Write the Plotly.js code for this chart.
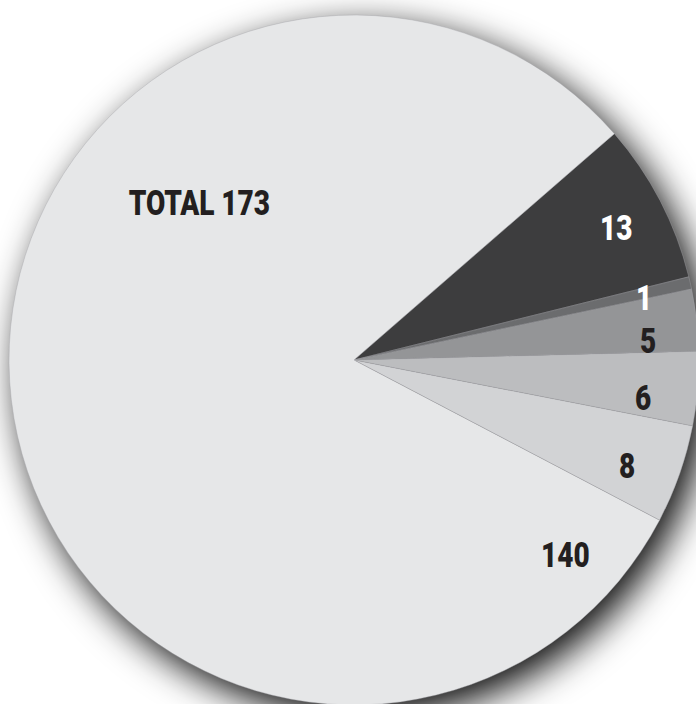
<!DOCTYPE html>
<html>
<head>
<meta charset="utf-8">
<script src="https://cdn.plot.ly/plotly-3.0.1.min.js"></script>
<style>
  html, body { margin: 0; padding: 0; width: 696px; height: 704px; overflow: hidden; background: #ffffff; }
  #chart { position: absolute; left: 0; top: 0; width: 699px; height: 705px; }
  #chart .pielayer { filter: drop-shadow(10px 12px 18px rgba(0,0,0,0.95)); }
  #chart text.annotation-text { transform: scaleX(0.8); transform-box: fill-box; transform-origin: center; }
</style>
</head>
<body>
<div id="chart"></div>
<script>
// Data
const categories = ["A", "B", "C", "D", "E", "F"];
const values = [13, 1, 5, 6, 8, 140];
const totalLabel = "TOTAL 173";

// Styling
const sliceColors = ["#3d3d3e", "#6b6c6e", "#949597", "#bcbdbf", "#d2d3d5", "#e6e7e8"];
const labelColors = ["#ffffff", "#ffffff", "#231f20", "#231f20", "#231f20", "#231f20"];
const labelPos = [[616, 228], [644, 299], [648, 342], [643, 398], [627, 467], [565, 555]];
const FONT = "Roboto, 'Noto Sans', sans-serif";

const L = 9, T = 15, S = 690;
function px(x) { return (x - L) / S; }
function py(y) { return 1 - (y - T) / S; }

const annotations = values.map((v, i) => ({
  x: px(labelPos[i][0]), y: py(labelPos[i][1]), xref: "paper", yref: "paper",
  text: String(v), showarrow: false,
  font: { family: FONT, size: 35, weight: 900, color: labelColors[i] },
  xanchor: "center", yanchor: "middle"
}));
annotations.push({
  x: px(200), y: py(204), xref: "paper", yref: "paper",
  text: totalLabel, showarrow: false,
  font: { family: FONT, size: 35, weight: 900, color: "#231f20" },
  xanchor: "center", yanchor: "middle"
});

const trace = {
  type: "pie",
  labels: categories,
  values: values,
  sort: false,
  direction: "clockwise",
  rotation: 49,
  textinfo: "none",
  hoverinfo: "none",
  marker: { colors: sliceColors, line: { color: "#a3a5a8", width: 0.4 } },
  domain: { x: [0, 1], y: [0, 1] }
};

const layout = {
  width: 699, height: 705,
  margin: { l: L, t: T, r: 0, b: 0, pad: 0 },
  showlegend: false,
  paper_bgcolor: "rgba(0,0,0,0)",
  plot_bgcolor: "rgba(0,0,0,0)",
  annotations: annotations
};

Plotly.newPlot("chart", [trace], layout, { displayModeBar: false, staticPlot: true });
</script>
</body>
</html>
